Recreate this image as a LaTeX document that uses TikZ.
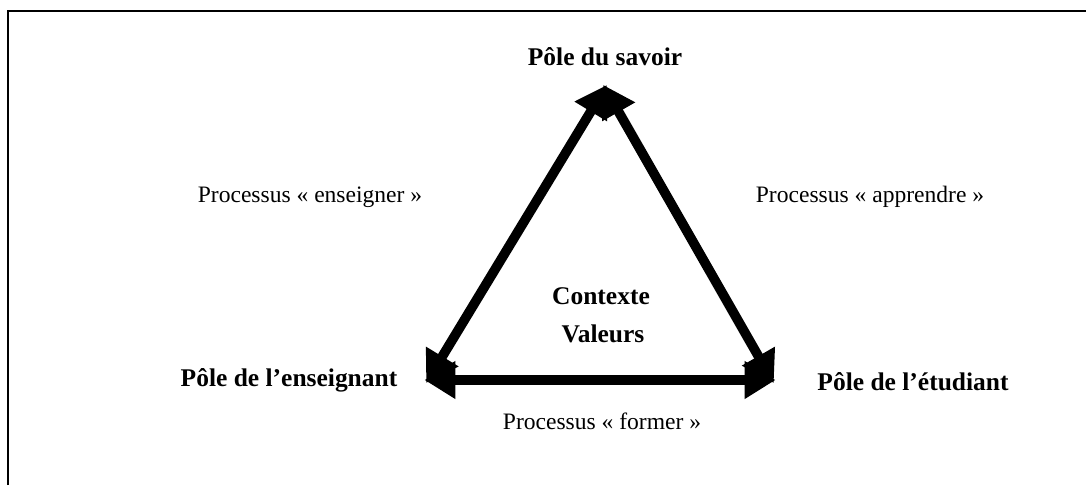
\documentclass[tikz,border=0pt]{standalone}
\usepackage{fontspec}
\setmainfont{Liberation Serif}
\usetikzlibrary{arrows.meta}

\begin{document}
\begin{tikzpicture}[thick]
    % Define styles for labels and arrows
    \tikzstyle{pole} = [font=\fontsize{14.5}{17}\selectfont\bfseries, inner sep=0pt]
    \tikzstyle{process} = [font=\fontsize{13.4}{16}\selectfont, inner sep=0pt]
    \tikzstyle{arrow} = [line width=5.5pt, {Triangle[length=0.62cm,width=0.72cm]}-{Triangle[length=0.62cm,width=0.72cm]}, shorten <=-2pt, shorten >=-2pt]
    \tikzstyle{frame} = [line width=0.8pt]

    % page size and frame
    \useasboundingbox (0, 0) rectangle (21.72, -9.7);
    \draw [frame] (0.16, -9.7) -- (0.16, -0.22) -- (21.72, -0.22);

    % corners of the triangle
    \coordinate (savoir) at (12.1, -1.76);
    \coordinate (enseignant) at (8.56, -7.6);
    \coordinate (etudiant) at (15.44, -7.6);

    % labels
    \node (savoirlabel) [pole] at (12.1, -1.14) {Pôle du savoir};
    \node (enseignantlabel) [pole] at (5.78, -7.6) {Pôle de l’enseignant};
    \node (etudiantlabel) [pole] at (18.26, -7.64) {Pôle de l’étudiant};
    \node (contexte) [pole] at (12.02, -5.92) {Contexte};
    \node (valeurs) [pole] at (12.06, -6.68) {Valeurs};
    \node (enseigner) [process] at (6.2, -3.94) {Processus « enseigner »};
    \node (apprendre) [process] at (17.4, -3.94) {Processus « apprendre »};
    \node (former) [process] at (12.04, -8.42) {Processus « former »};

    % Arrows
    \draw [arrow] (enseignant) -- (savoir);
    \draw [arrow] (savoir) -- (etudiant);
    \draw [arrow] (enseignant) -- (etudiant);
\end{tikzpicture}
\end{document}
